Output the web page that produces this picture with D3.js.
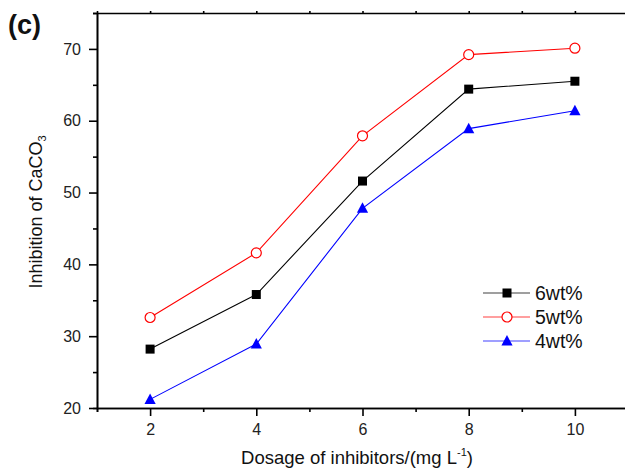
<!DOCTYPE html>
<html>
<head>
<meta charset="utf-8">
<script src="https://cdn.jsdelivr.net/npm/d3@7"></script>
<style>
  html, body { margin: 0; padding: 0; background: #fff; }
  svg { display: block; font-family: "Liberation Sans", Arial, sans-serif; }
</style>
</head>
<body>
<svg id="chart" width="625" height="469"></svg>
<script>
// Inhibition of CaCO3 scale versus inhibitor dosage
const dosage = [2, 4, 6, 8, 10];
const series6 = [28.2, 35.8, 51.6, 64.4, 65.5];
const series5 = [32.6, 41.6, 57.9, 69.2, 70.1];
const series4 = [21.2, 28.9, 47.8, 58.9, 61.4];
const seriesNames = ["6wt%", "5wt%", "4wt%"];
const xTicks = [2, 4, 6, 8, 10];
const xMinorTicks = [1, 3, 5, 7, 9, 11];
const yTicks = [20, 30, 40, 50, 60, 70];
const yMinorTicks = [25, 35, 45, 55, 65, 75];

const svg = d3.select("#chart");
const plotLeft = 97, plotRight = 628, plotTop = 13, plotBottom = 408;

const x = d3.scaleLinear().domain([1, 11]).range([plotLeft, plotRight]);
const y = d3.scaleLinear().domain([20, 75]).range([plotBottom, plotTop]);

const axisStroke = 1.6;

function styleAxis(g) {
  g.selectAll("path, line").attr("stroke", "#000").attr("stroke-width", axisStroke);
  g.selectAll("text").attr("fill", "#222").attr("font-size", 16)
    .attr("font-family", "'Liberation Sans', Arial, sans-serif");
}

// bottom axis: major + minor ticks
svg.append("g").attr("transform", `translate(0,${plotBottom})`)
  .call(d3.axisBottom(x).tickValues(xMinorTicks).tickSize(4).tickFormat(""))
  .call(styleAxis);
svg.append("g").attr("transform", `translate(0,${plotBottom})`)
  .call(d3.axisBottom(x).tickValues(xTicks).tickSize(8).tickPadding(8).tickSizeOuter(0))
  .call(styleAxis);

// left axis
svg.append("g").attr("transform", `translate(${plotLeft},0)`)
  .call(d3.axisLeft(y).tickValues(yMinorTicks).tickSize(4).tickFormat(""))
  .call(styleAxis);
svg.append("g").attr("transform", `translate(${plotLeft},0)`)
  .call(d3.axisLeft(y).tickValues(yTicks).tickSize(8).tickPadding(8).tickSizeOuter(0))
  .call(styleAxis);

// top and right frame
svg.append("g").attr("transform", `translate(0,${plotTop})`)
  .call(d3.axisTop(x).tickValues(xTicks.concat(xMinorTicks)).tickSize(2).tickFormat("").tickSizeOuter(0))
  .call(styleAxis);
svg.append("g").attr("transform", `translate(${plotRight},0)`)
  .call(d3.axisRight(y).tickValues(yTicks).tickSize(2).tickFormat("").tickSizeOuter(0))
  .call(styleAxis);

// series
const series = [
  { name: seriesNames[0], values: series6, color: "#000000", marker: "square" },
  { name: seriesNames[1], values: series5, color: "#ff0000", marker: "circle" },
  { name: seriesNames[2], values: series4, color: "#0000ff", marker: "triangle" }
];

const line = d3.line().x((d, i) => x(dosage[i])).y(d => y(d));

function drawMarker(g, type, color, cx, cy) {
  if (type === "square") {
    g.append("rect").attr("x", cx - 4.5).attr("y", cy - 4.5)
      .attr("width", 9).attr("height", 9).attr("fill", color);
  } else if (type === "circle") {
    g.append("circle").attr("cx", cx).attr("cy", cy).attr("r", 5)
      .attr("fill", "#fff").attr("stroke", color).attr("stroke-width", 1.2);
  } else {
    g.append("path")
      .attr("d", `M${cx},${cy - 6}L${cx + 5.6},${cy + 4.5}L${cx - 5.6},${cy + 4.5}Z`)
      .attr("fill", color);
  }
}

series.forEach(s => {
  svg.append("path").datum(s.values)
    .attr("d", line).attr("fill", "none")
    .attr("stroke", s.color).attr("stroke-width", 1.1);
  const mg = svg.append("g");
  s.values.forEach((v, i) => drawMarker(mg, s.marker, s.color, x(dosage[i]), y(v)));
});

// legend
const legend = svg.append("g");
series.forEach((s, i) => {
  const ly = 293 + i * 24;
  legend.append("line").attr("x1", 483).attr("x2", 530).attr("y1", ly).attr("y2", ly)
    .attr("stroke", s.color).attr("stroke-width", 1.1).attr("stroke-opacity", 0.75);
  drawMarker(legend, s.marker, s.color, 507, ly);
  legend.append("text").attr("x", 535).attr("y", ly + 7)
    .attr("font-size", 19.5).attr("fill", "#111").text(s.name);
});

// axis titles
const xt = svg.append("text").attr("x", 357).attr("y", 464)
  .attr("text-anchor", "middle").attr("font-size", 18.5).attr("fill", "#111");
xt.append("tspan").text("Dosage of inhibitors/(mg L");
xt.append("tspan").attr("font-size", 11).attr("dy", -8).text("-1");
xt.append("tspan").attr("dy", 8).text(")");

const yt = svg.append("text")
  .attr("transform", "translate(42,212) rotate(-90)")
  .attr("text-anchor", "middle").attr("font-size", 18).attr("fill", "#111");
yt.append("tspan").text("Inhibition of CaCO");
yt.append("tspan").attr("font-size", 11).attr("dy", 4).text("3");

// panel label
svg.append("text").attr("x", 8).attr("y", 34)
  .attr("font-size", 27).attr("font-weight", "bold").attr("fill", "#111").text("(c)");
</script>
</body>
</html>
